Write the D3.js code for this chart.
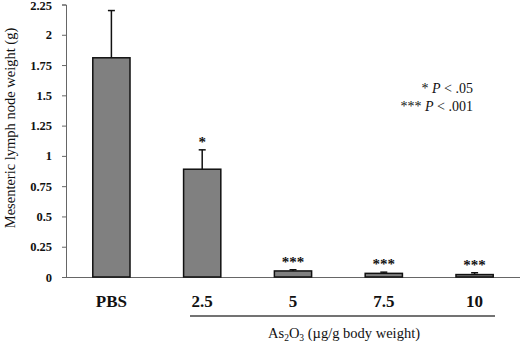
<!DOCTYPE html>
<html><head><meta charset="utf-8">
<script src="https://cdn.jsdelivr.net/npm/d3@7"></script>
<style>body{margin:0;background:#fff}svg{display:block}svg text{font-family:"Liberation Serif","Times New Roman",serif !important;fill:#111}</style>
</head><body><svg id="c" width="520" height="344"></svg>
<script>
const categories = ["PBS","2.5","5","7.5","10"];
const values = [1.81, 0.89, 0.05, 0.03, 0.02];
const errors = [0.39, 0.16, 0.01, 0.01, 0.015];
const stars = ["", "*", "***", "***", "***"];
const yTicks = [0,0.25,0.5,0.75,1,1.25,1.5,1.75,2,2.25];
const yTickLabels = ["0","0.25","0.5","0.75","1","1.25","1.5","1.75","2","2.25"];

const svg = d3.select("#c");
const y = d3.scaleLinear().domain([0,2.25]).range([277,4.5]);
const x = d3.scaleBand().domain(categories).range([66,520]).paddingInner(0.59).paddingOuter(0.295);

// y axis
const ya = svg.append("g").attr("transform","translate(66,0)")
  .call(d3.axisLeft(y).tickValues(yTicks).tickFormat((d,i)=>yTickLabels[i]).tickSize(4).tickPadding(10));
ya.attr("font-family",null);
ya.select(".domain").attr("stroke","#666");
ya.selectAll(".tick line").attr("stroke","#666");
ya.selectAll("text").style("font-size","12.5px").style("font-weight","bold").attr("fill","#222")
  .attr("dy",(d)=> d===2.25 ? "0.42em" : "0.32em");

// x axis line
svg.append("line").attr("x1",66).attr("x2",520).attr("y1",y(0)+0.5).attr("y2",y(0)+0.5).attr("stroke","#666");

// bars
svg.selectAll("rect.bar").data(values).enter().append("rect")
  .attr("x",(d,i)=>x(categories[i])).attr("width",x.bandwidth())
  .attr("y",d=>y(d)).attr("height",d=>y(0)-y(d))
  .attr("fill","#808080").attr("stroke","#111").attr("stroke-width",1.5);

// error bars
const eb = svg.selectAll("g.eb").data(values).enter().append("g");
eb.append("line").attr("x1",(d,i)=>x(categories[i])+x.bandwidth()/2).attr("x2",(d,i)=>x(categories[i])+x.bandwidth()/2)
  .attr("y1",d=>y(d)).attr("y2",(d,i)=>y(d+errors[i])).attr("stroke","#111").attr("stroke-width",1.5);
eb.append("line").attr("x1",(d,i)=>x(categories[i])+x.bandwidth()/2-3.5).attr("x2",(d,i)=>x(categories[i])+x.bandwidth()/2+3.5)
  .attr("y1",(d,i)=>y(d+errors[i])).attr("y2",(d,i)=>y(d+errors[i])).attr("stroke","#111").attr("stroke-width",1.5);

// significance stars
svg.selectAll("text.star").data(stars).enter().append("text")
  .attr("x",(d,i)=>x(categories[i])+x.bandwidth()/2)
  .attr("y",(d,i)=>y(values[i]+errors[i])-3)
  .attr("text-anchor","middle").style("font-size","15px").style("font-weight","bold")
  .text(d=>d);

// category labels
svg.selectAll("text.cat").data(categories).enter().append("text")
  .attr("x",d=>x(d)+x.bandwidth()/2).attr("y",307)
  .attr("text-anchor","middle").style("font-size","17px").style("font-weight","bold").attr("fill","#222")
  .text(d=>d);

// group line
svg.append("line").attr("x1",190).attr("x2",495).attr("y1",316).attr("y2",316).attr("stroke","#444").attr("stroke-width",1.5);

// x title
const xt = svg.append("text").attr("x",344).attr("y",338).attr("text-anchor","middle").style("font-size","14.5px").attr("fill","#222");
xt.append("tspan").text("As");
xt.append("tspan").attr("dy",3).style("font-size","9.5px").text("2");
xt.append("tspan").attr("dy",-3).text("O");
xt.append("tspan").attr("dy",3).style("font-size","9.5px").text("3");
xt.append("tspan").attr("dy",-3).text(" (µg/g body weight)");

// y title
svg.append("text").attr("transform","translate(15,128) rotate(-90)").attr("text-anchor","middle")
  .style("font-size","14.5px").attr("fill","#222").text("Mesenteric lymph node weight (g)");

// legend
const lg = svg.append("g");
const l1 = lg.append("text").attr("x",473).attr("y",93).attr("text-anchor","end").style("font-size","14px");
l1.append("tspan").text("* ");
l1.append("tspan").style("font-style","italic").text("P");
l1.append("tspan").text(" < .05");
const l2 = lg.append("text").attr("x",473).attr("y",111).attr("text-anchor","end").style("font-size","14px");
l2.append("tspan").text("*** ");
l2.append("tspan").style("font-style","italic").text("P");
l2.append("tspan").text(" < .001");
</script></body></html>
